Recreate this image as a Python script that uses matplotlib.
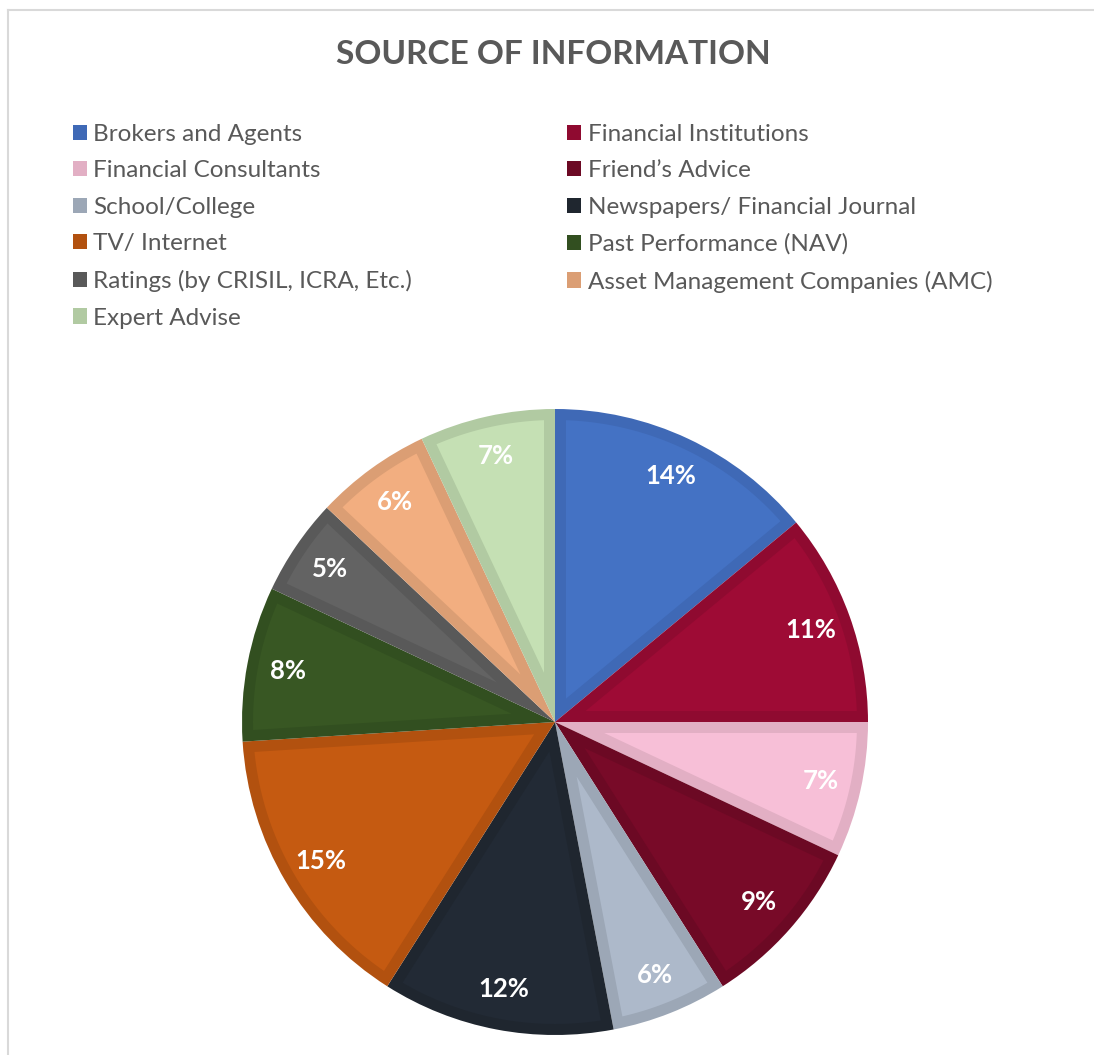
import numpy as np
import matplotlib
matplotlib.use('Agg')
import matplotlib.pyplot as plt
from matplotlib.patches import Patch, Polygon
from matplotlib.lines import Line2D

plt.rcParams['font.family'] = ['Lato', 'DejaVu Sans']

# data
sources = ['Brokers and Agents', 'Financial Institutions', 'Financial Consultants',
           'Friend\u2019s Advice', 'School/College', 'Newspapers/ Financial Journal',
           'TV/ Internet', 'Past Performance (NAV)', 'Ratings (by CRISIL, ICRA, Etc.)',
           'Asset Management Companies (AMC)', 'Expert Advise']
shares = [14, 11, 7, 9, 6, 12, 15, 8, 5, 6, 7]

fills = ['#4472C4', '#9E0B35', '#F7BFD7', '#780A28', '#ADB9CA', '#222A35',
         '#C55A11', '#385723', '#636363', '#F2AE80', '#C5E0B4']
edges = ['#3F69B6', '#8F0A30', '#E2AFC4', '#6C0924', '#9CA7B6', '#1F262F',
         '#B2510F', '#324F20', '#595959', '#DB9E74', '#B1CAA2']

TEXT = '#595959'

fig = plt.figure(figsize=(10.94, 10.55), dpi=100)

# chart frame (only top and left edges show)
fig.add_artist(Line2D([8 / 1094, 8 / 1094], [0, 1 - 10 / 1055], color='#D9D9D9', lw=1.5))
fig.add_artist(Line2D([8 / 1094, 1], [1 - 10 / 1055, 1 - 10 / 1055], color='#D9D9D9', lw=1.5))

fig.text(553 / 1094, 1 - 54 / 1055, 'SOURCE OF INFORMATION', ha='center', va='center',
         fontsize=24, fontweight='bold', color=TEXT)

cx, cy, r = 555 / 1094, 1 - 722 / 1055, 313
ax = fig.add_axes([cx - r / 1094, cy - r / 1055, 2 * r / 1094, 2 * r / 1055])
wedges, _, autotexts = ax.pie(shares, colors=edges, startangle=90, counterclock=False,
                              autopct='%1.0f%%', pctdistance=0.87, radius=1,
                              wedgeprops=dict(linewidth=0),
                              textprops=dict(color='white', fontsize=18.5, fontweight='bold'))

# lighter inner fill, leaving a border band of the edge colour inside each slice
d = 11 / r
for w, fc in zip(wedges, fills):
    t1, t2 = np.deg2rad(w.theta1), np.deg2rad(w.theta2)
    half = (t2 - t1) / 2
    mid = (t1 + t2) / 2
    apex = d / np.sin(half)
    trim = np.arcsin(d / (1 - d))
    arc = np.linspace(t1 + trim, t2 - trim, 80)
    xs = np.r_[apex * np.cos(mid), (1 - d) * np.cos(arc)]
    ys = np.r_[apex * np.sin(mid), (1 - d) * np.sin(arc)]
    ax.add_patch(Polygon(np.c_[xs, ys], closed=True, facecolor=fc, edgecolor='none'))

ax.set_xlim(-1, 1)
ax.set_ylim(-1, 1)
ax.axis('off')

# legend, row-major like the original
order = [0, 2, 4, 6, 8, 10, 1, 3, 5, 7, 9]
handles = [Patch(facecolor=edges[i], label=sources[i]) for i in order]
fig.legend(handles=handles, ncol=2, loc='upper left',
           bbox_to_anchor=(63 / 1094, 1 - 114 / 1055), frameon=False,
           fontsize=17.5, labelcolor=TEXT, handlelength=0.58, handleheight=0.58,
           handletextpad=0.25, columnspacing=6.4, labelspacing=0.64, borderaxespad=0)

fig.savefig('out.png', dpi=100)
